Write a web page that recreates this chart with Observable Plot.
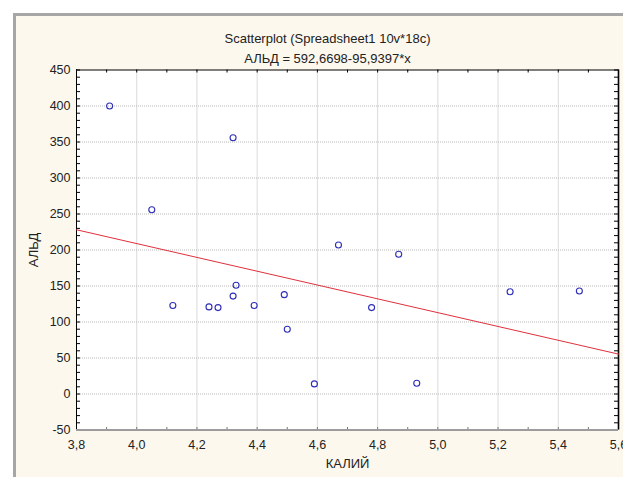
<!DOCTYPE html>
<html>
<head>
<meta charset="utf-8">
<script src="https://cdn.jsdelivr.net/npm/d3@7"></script>
<script src="https://cdn.jsdelivr.net/npm/@observablehq/plot@0.6"></script>
<style>
  html, body { margin: 0; padding: 0; background: #ffffff; width: 623px; height: 477px; overflow: hidden; }
  #panel { position: absolute; left: 13px; top: 13px; width: 607px; height: 461px; background: #fdf8ee;
           border-left: 3px solid #a6a6a6; border-top: 3px solid #a6a6a6; }
  #chart { position: absolute; left: 0; top: 0; }
</style>
</head>
<body>
<div id="panel"></div>
<div id="chart"></div>
<script>
const kaliy = [3.91, 4.05, 4.12, 4.24, 4.27, 4.32, 4.32, 4.33, 4.39, 4.49, 4.50, 4.59, 4.67, 4.78, 4.87, 4.93, 5.24, 5.47];
const ald   = [400, 256, 123, 121, 120, 356, 136, 151, 123, 138, 90, 14, 207, 120, 194, 15, 142, 143];

// Regression equation shown in the subtitle
const intercept = 592.6698;
const slope = -95.9397;

// Axes
const xDomain = [3.8, 5.6];
const yDomain = [-50, 450];
const xTicks = [3.8, 4.0, 4.2, 4.4, 4.6, 4.8, 5.0, 5.2, 5.4, 5.6];
const yTicks = [-50, 0, 50, 100, 150, 200, 250, 300, 350, 400, 450];
const titleText = "Scatterplot (Spreadsheet1 10v*18c)";
const subtitleText = "АЛЬД = 592,6698-95,9397*x";
const xLabel = "КАЛИЙ";
const yLabel = "АЛЬД";

const points = kaliy.map((k, i) => ({x: k, y: ald[i]}));
const fitLine = xDomain.map(x => ({x, y: intercept + slope * x}));
const xMinor = d3.range(38, 57).map(d => d / 10);
const yMinor = d3.range(-50, 451, 10);

const W = 623, H = 477, mL = 76, mR = 5, mT = 69.5, mB = 47.5;
const plotW = W - mL - mR, plotH = H - mT - mB;
const fmt = d => d.toFixed(1).replace(".", ",");

const chart = Plot.plot({
  width: W, height: H,
  marginLeft: mL, marginRight: mR, marginTop: mT, marginBottom: mB,
  style: {background: "transparent", fontFamily: "'Liberation Sans', Arial, sans-serif", fontSize: "12.5px", color: "#222"},
  x: {domain: xDomain},
  y: {domain: yDomain},
  marks: [
    Plot.frame({fill: "white", stroke: "none"}),
    Plot.gridX(xTicks.slice(1, -1), {stroke: "#b8b8b8", strokeOpacity: 1, strokeDasharray: "1,1"}),
    Plot.gridY(yTicks.slice(1, -1), {stroke: "#b8b8b8", strokeOpacity: 1, strokeDasharray: "1,1"}),
    // inward minor ticks
    Plot.tickY(yMinor, {y: d => d, insetRight: plotW - 4, stroke: "black"}),
    Plot.tickY(yMinor, {y: d => d, insetLeft: plotW - 4, stroke: "black"}),
    Plot.tickX(xMinor, {x: d => d, insetBottom: plotH - 3, stroke: "black"}),
    Plot.tickX(xMinor, {x: d => d, insetTop: plotH - 2.5, stroke: "#777"}),
    // frame sides
    Plot.ruleX([xDomain[0]], {stroke: "black", strokeWidth: 1}),
    Plot.ruleX([xDomain[1]], {stroke: "black", strokeWidth: 1.6}),
    Plot.ruleY([yDomain[1]], {stroke: "black", strokeWidth: 1}),
    Plot.ruleY([yDomain[0]], {stroke: "#9c9c9c", strokeWidth: 2}),
    // axes labels
    Plot.axisY({ticks: yTicks, tickSize: 0, tickPadding: 6, tickFormat: d => String(d), label: null}),
    Plot.axisX({ticks: xTicks, tickSize: 0, tickPadding: 10, tickFormat: fmt, label: null}),
    // regression line
    Plot.line(fitLine, {x: "x", y: "y", stroke: "#e0303c", strokeWidth: 1}),
    // points
    Plot.dot(points, {x: "x", y: "y", r: 3, stroke: "#2d2db8", strokeWidth: 1.1, fill: "none"}),
    // titles
    Plot.text([titleText], {frameAnchor: "top-left", textAnchor: "middle", dx: 327 - mL, dy: 33.6 - mT, fontSize: 13, fill: "#222", text: d => d}),
    Plot.text([subtitleText], {frameAnchor: "top-left", textAnchor: "middle", dx: 327 - mL, dy: 53 - mT, fontSize: 13, fill: "#222", text: d => d}),
    Plot.text([xLabel], {frameAnchor: "bottom", textAnchor: "middle", dy: 37.5, fontSize: 13, fill: "#222", text: d => d}),
    Plot.text([yLabel], {frameAnchor: "left", textAnchor: "middle", dx: 33 - mL, rotate: -90, fontSize: 13, fill: "#222", text: d => d})
  ]
});
document.getElementById("chart").appendChild(chart);
</script>
</body>
</html>
